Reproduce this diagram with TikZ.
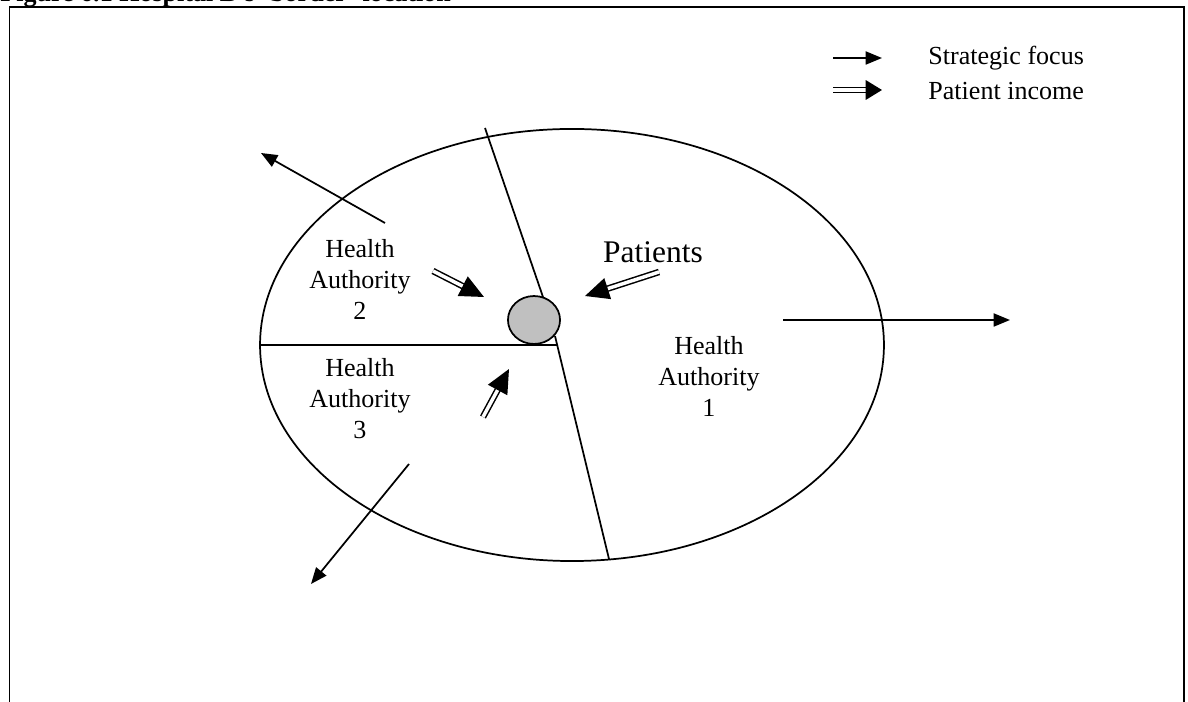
\documentclass[tikz,border=0pt]{standalone}
\usepackage{fontspec}
\setmainfont{Liberation Serif}
\usetikzlibrary{arrows.meta,shapes.geometric}
\definecolor{hubgray}{RGB}{192,192,192}
\tikzset{
  lbl/.style={align=center,inner sep=0pt,font=\fontsize{12}{14.5}\selectfont},
  focus/.style={line width=0.8pt,-{Triangle[length=7.5pt,width=6pt]}},
  income/.style={double,double distance=1.6pt,line width=0.7pt,-{Triangle[length=11pt,width=10pt]}},
  legincome/.style={double,double distance=1.6pt,line width=0.7pt,-{Triangle[length=7.5pt,width=9pt]}},
  divider/.style={line width=0.8pt},
}
\begin{document}
\begin{tikzpicture}[x=0.4608pt,y=-0.4608pt]
\useasboundingbox (0,0) rectangle (1188,702);
% title (clipped at top)
\node[anchor=base west,inner sep=0pt,font=\fontsize{12}{14}\selectfont\bfseries] (title) at (0,1.5) {Figure 6.1 Hospital B's `border' location};
% frame
\draw[line width=0.7pt] (9.5,702) -- (9.5,7) -- (1184,7) -- (1184,702);
% ellipse
\node[draw,ellipse,line width=0.8pt,minimum width=287.5pt,minimum height=199.1pt,inner sep=0pt] (region) at (572,345) {};
% dividers
\coordinate (d1a) at (485,128);
\coordinate (d1b) at (543,297);
\coordinate (d2a) at (260,345);
\coordinate (d2b) at (558,345);
\coordinate (d3a) at (555,336);
\coordinate (d3b) at (609,559);
\draw[divider] (d1a) -- (d1b);
\draw[divider] (d2a) -- (d2b);
\draw[divider] (d3a) -- (d3b);
% hospital
\node[draw,ellipse,line width=0.8pt,fill=hubgray,minimum width=24pt,minimum height=22.1pt,inner sep=0pt] (hub) at (534,320) {};
% labels (anchor base = last line)
\node[lbl,anchor=base] (ha2) at (360,320) {Health\\Authority\\2};
\node[lbl,anchor=base] (ha3) at (360,439) {Health\\Authority\\3};
\node[lbl,anchor=base] (ha1) at (709,417) {Health\\Authority\\1};
\node[anchor=base,inner sep=0pt,font=\fontsize{14.5}{16}\selectfont] (pat) at (653,263) {Patients};
% strategic focus arrows
\coordinate (s1a) at (385,223); \coordinate (s1b) at (261,153);
\coordinate (s2a) at (783,320); \coordinate (s2b) at (1010,320);
\coordinate (s3a) at (409,464); \coordinate (s3b) at (311,584);
\draw[focus] (s1a) -- (s1b);
\draw[focus] (s2a) -- (s2b);
\draw[focus] (s3a) -- (s3b);
% patient income arrows
\coordinate (p1a) at (433,271); \coordinate (p1b) at (484,297);
\coordinate (p2a) at (659,272); \coordinate (p2b) at (585,296);
\coordinate (p3a) at (483,417); \coordinate (p3b) at (509,369);
\draw[income] (p1a) -- (p1b);
\draw[income] (p2a) -- (p2b);
\draw[income] (p3a) -- (p3b);
% legend
\coordinate (l1a) at (833,58); \coordinate (l1b) at (882,58);
\coordinate (l2a) at (833,90); \coordinate (l2b) at (882,90);
\draw[focus] (l1a) -- (l1b);
\draw[legincome] (l2a) -- (l2b);
\node[anchor=base west,inner sep=0pt,font=\fontsize{12}{14}\selectfont] (leg1) at (928,65) {Strategic focus};
\node[anchor=base west,inner sep=0pt,font=\fontsize{12}{14}\selectfont] (leg2) at (928,100) {Patient income};
\end{tikzpicture}
\end{document}
